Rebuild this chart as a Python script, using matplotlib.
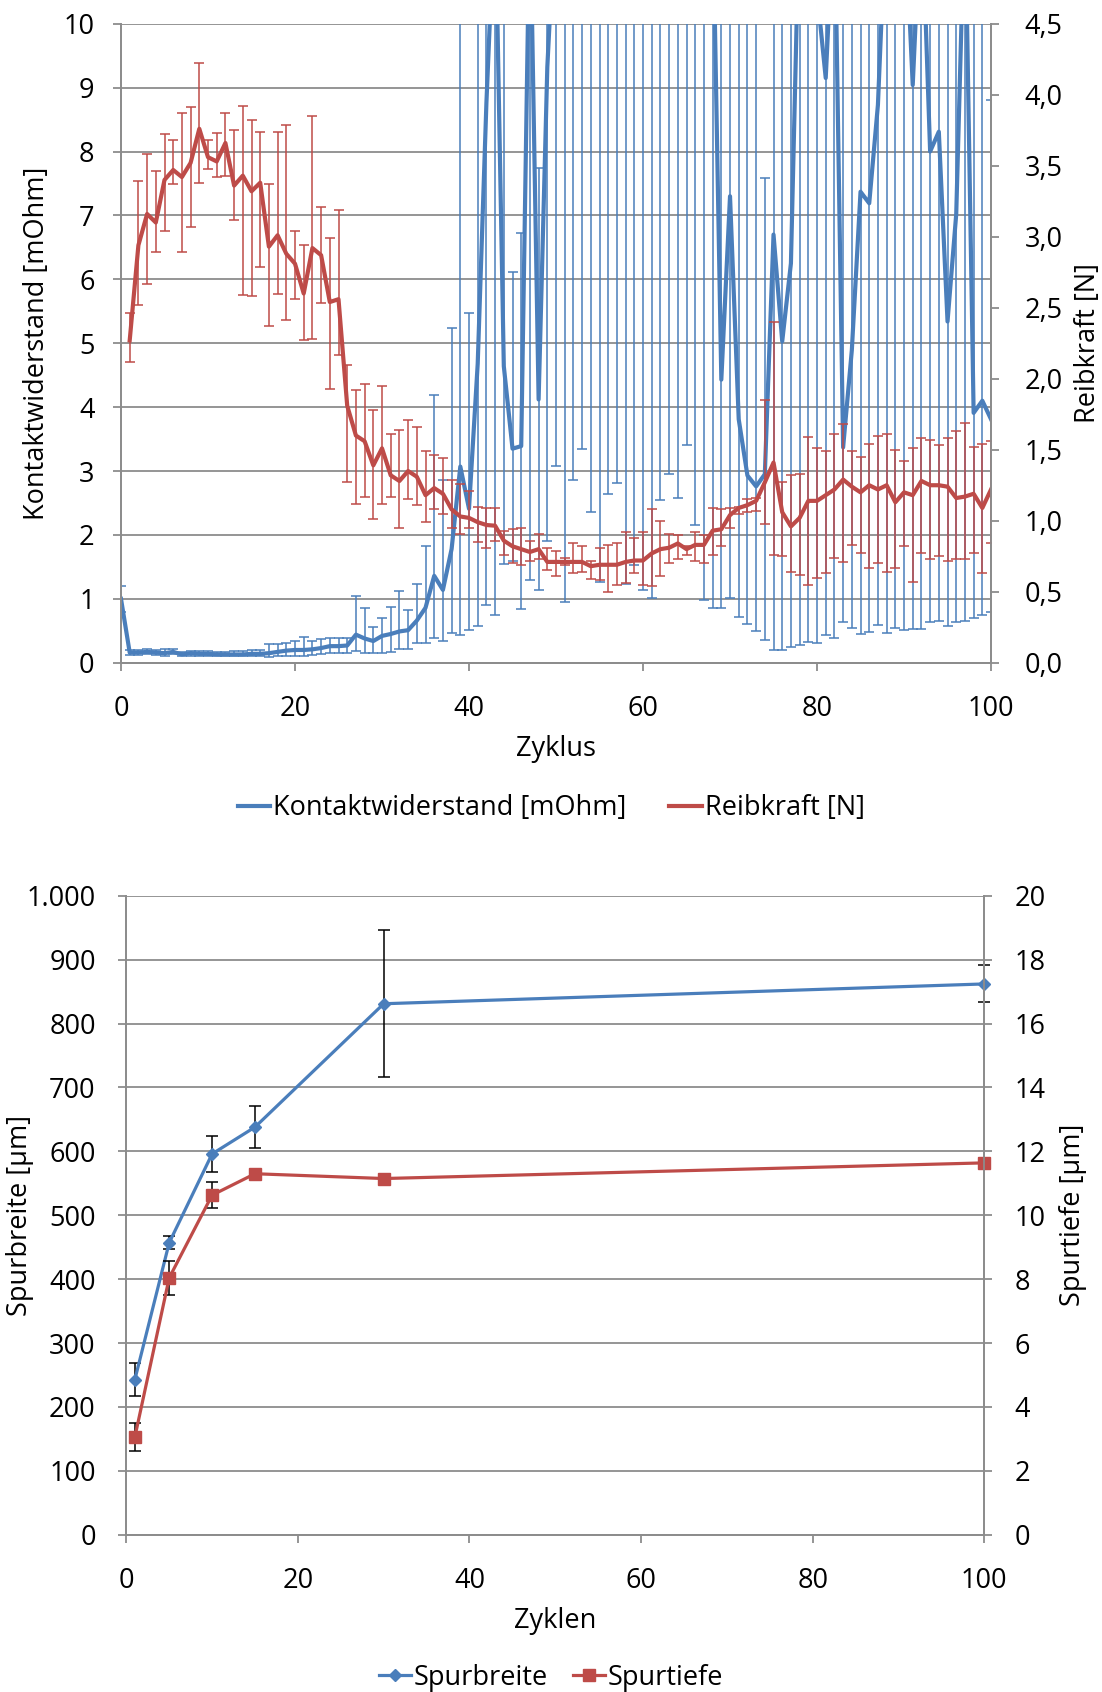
import numpy as np
import matplotlib
matplotlib.use("Agg")
import matplotlib.pyplot as plt
import matplotlib.ticker as mticker
from matplotlib.lines import Line2D

plt.rcParams['font.family'] = ['Open Sans', 'DejaVu Sans']

BLUE = '#4A7EBB'
RED = '#BE4B48'
GRID = '#8C8C8C'

# ---- top chart data (Zyklus 0..100) ----
cycles = list(range(0, 101))

# Kontaktwiderstand [mOhm]; 12.0 = above the visible range (>10)
kw_val = [1.00, 0.16, 0.16, 0.17, 0.16, 0.15, 0.17, 0.13, 0.15, 0.14,
          0.14, 0.13, 0.13, 0.13, 0.13, 0.14, 0.14, 0.15, 0.17, 0.19,
          0.20, 0.20, 0.21, 0.23, 0.26, 0.26, 0.27, 0.44, 0.38, 0.34,
          0.42, 0.45, 0.49, 0.51, 0.66, 0.86, 1.36, 1.14, 1.78, 3.07,
          2.41, 4.68, 8.76, 12.0, 4.64, 3.35, 3.39, 12.0, 4.12, 9.32,
          12.0, 12.0, 12.0, 12.0, 12.0, 12.0, 12.0, 12.0, 12.0, 12.0,
          12.0, 12.0, 12.0, 12.0, 12.0, 12.0, 12.0, 12.0, 12.0, 4.43,
          7.30, 3.81, 2.93, 2.76, 2.95, 6.70, 5.03, 6.25, 12.0, 12.0,
          10.5, 9.15, 12.0, 3.37, 4.89, 7.37, 7.19, 8.73, 12.0, 12.0,
          12.0, 9.04, 12.0, 8.00, 8.31, 5.34, 7.02, 12.0, 3.91, 4.10,
          3.81]
kw_lo = [0.80, 0.12, 0.12, 0.13, 0.12, 0.11, 0.13, 0.10, 0.11, 0.11,
         0.11, 0.10, 0.10, 0.10, 0.10, 0.10, 0.10, 0.09, 0.10, 0.11,
         0.11, 0.10, 0.12, 0.13, 0.15, 0.15, 0.15, 0.19, 0.16, 0.15,
         0.16, 0.17, 0.22, 0.21, 0.31, 0.31, 0.38, 0.34, 0.47, 0.43,
         0.52, 0.58, 0.91, 0.75, 1.55, 1.60, 0.84, 1.30, 1.14, 1.90,
         3.08, 0.95, 2.86, 3.34, 2.36, 1.27, 2.64, 2.81, 1.24, 1.53,
         1.14, 1.01, 2.55, 2.96, 2.58, 3.40, 2.15, 0.98, 0.86, 0.85,
         1.01, 0.71, 0.61, 0.50, 0.35, 0.20, 0.20, 0.24, 0.28, 0.32,
         0.31, 0.43, 0.38, 0.63, 0.54, 0.45, 0.48, 0.59, 0.46, 0.55,
         0.52, 0.53, 0.53, 0.63, 0.66, 0.58, 0.63, 0.66, 0.70, 0.75,
         0.79]
kw_hi = [1.20, 0.20, 0.20, 0.21, 0.20, 0.22, 0.21, 0.17, 0.19, 0.18,
         0.18, 0.17, 0.17, 0.18, 0.18, 0.20, 0.20, 0.30, 0.30, 0.31,
         0.34, 0.40, 0.34, 0.37, 0.38, 0.38, 0.38, 1.05, 0.86, 0.56,
         0.70, 0.87, 1.12, 0.82, 1.24, 1.82, 4.19, 2.86, 5.24, 20.0,
         5.47, 20.0, 20.0, 20.0, 20.0, 6.12, 6.72, 20.0, 7.74, 20.0,
         20.0, 20.0, 20.0, 20.0, 20.0, 20.0, 20.0, 20.0, 20.0, 20.0,
         20.0, 20.0, 20.0, 20.0, 20.0, 20.0, 20.0, 20.0, 20.0, 20.0,
         20.0, 20.0, 20.0, 20.0, 7.59, 20.0, 20.0, 20.0, 20.0, 20.0,
         20.0, 20.0, 20.0, 20.0, 20.0, 20.0, 20.0, 20.0, 20.0, 20.0,
         20.0, 20.0, 20.0, 20.0, 20.0, 20.0, 20.0, 20.0, 20.0, 20.0,
         8.80]

# Reibkraft [N], Zyklus 1..100
rk_cycles = list(range(1, 101))
rk_val = [2.27, 2.94, 3.16, 3.10, 3.40, 3.47, 3.42, 3.52, 3.76, 3.56,
          3.53, 3.66, 3.36, 3.43, 3.32, 3.38, 2.93, 3.01, 2.88, 2.81,
          2.60, 2.92, 2.87, 2.54, 2.56, 1.81, 1.60, 1.56, 1.39, 1.51,
          1.32, 1.28, 1.35, 1.31, 1.18, 1.23, 1.19, 1.08, 1.03, 1.02,
          0.99, 0.97, 0.965, 0.86, 0.82, 0.80, 0.78, 0.80, 0.71, 0.71,
          0.71, 0.71, 0.71, 0.68, 0.69, 0.69, 0.69, 0.71, 0.72, 0.72,
          0.77, 0.80, 0.81, 0.84, 0.80, 0.83, 0.83, 0.93, 0.94, 1.04,
          1.09, 1.11, 1.14, 1.27, 1.41, 1.06, 0.96, 1.02, 1.14, 1.14,
          1.18, 1.22, 1.29, 1.24, 1.20, 1.25, 1.22, 1.25, 1.13, 1.20,
          1.18, 1.28, 1.25, 1.25, 1.24, 1.16, 1.17, 1.19, 1.09, 1.22]
rk_lo = [2.12, 2.52, 2.67, 2.89, 3.04, 3.37, 2.89, 3.07, 3.38, 3.48,
         3.42, 3.43, 3.12, 2.59, 2.58, 2.79, 2.37, 2.60, 2.41, 2.56,
         2.27, 2.28, 2.53, 1.93, 2.17, 1.27, 1.12, 1.17, 1.01, 1.12,
         1.17, 0.95, 1.15, 1.11, 0.99, 1.08, 1.05, 0.95, 0.91, 0.95,
         0.85, 0.81, 0.86, 0.76, 0.70, 0.69, 0.72, 0.73, 0.65, 0.61,
         0.69, 0.63, 0.64, 0.59, 0.58, 0.50, 0.55, 0.56, 0.63, 0.55,
         0.54, 0.61, 0.70, 0.73, 0.76, 0.72, 0.70, 0.76, 0.82, 0.95,
         1.05, 1.06, 1.07, 0.98, 0.76, 0.75, 0.64, 0.62, 0.55, 0.60,
         0.63, 0.74, 0.71, 0.83, 0.77, 0.67, 0.70, 0.64, 0.67, 0.82,
         0.57, 0.77, 0.73, 0.75, 0.72, 0.73, 0.73, 0.77, 0.63, 0.84]
rk_hi = [2.46, 3.39, 3.58, 3.46, 3.72, 3.68, 3.87, 3.91, 4.22, 3.68,
         3.73, 3.87, 3.75, 3.92, 3.82, 3.74, 3.37, 3.74, 3.79, 3.04,
         2.94, 3.85, 3.21, 2.99, 3.19, 2.10, 1.92, 1.96, 1.78, 1.95,
         1.61, 1.64, 1.71, 1.66, 1.49, 1.46, 1.44, 1.29, 1.26, 1.21,
         1.10, 1.09, 1.09, 0.93, 0.94, 0.95, 0.86, 0.91, 0.81, 0.79,
         0.74, 0.84, 0.82, 0.72, 0.81, 0.83, 0.84, 0.92, 0.88, 0.92,
         1.08, 1.00, 0.91, 0.90, 0.82, 0.92, 0.90, 1.09, 1.08, 1.09,
         1.10, 1.15, 1.16, 1.85, 2.40, 1.27, 1.32, 1.33, 1.59, 1.51,
         1.49, 1.61, 1.68, 1.49, 1.45, 1.54, 1.60, 1.61, 1.50, 1.42,
         1.51, 1.58, 1.57, 1.53, 1.58, 1.63, 1.69, 1.52, 1.54, 1.56]

# ---- bottom chart data ----
zyklen = [1, 5, 10, 15, 30, 100]
spurbreite = [243, 457, 596, 638, 831, 862]
spurbreite_err = [26, 10, 28, 33, 115, 29]
spurtiefe = [3.06, 8.04, 10.63, 11.30, 11.15, 11.64]
spurtiefe_err = [0.45, 0.54, 0.41, 0.0, 0.0, 0.0]

FS = 19.5


def comma_fmt(v, pos):
    return ('%.1f' % v).replace('.', ',')


def thousands_fmt(v, pos):
    return '{:,.0f}'.format(v).replace(',', '.')


def style_axes(ax, ax2, lpad, rpad):
    for a in (ax, ax2):
        for s in a.spines.values():
            s.set_color(GRID)
            s.set_linewidth(1.3)
        a.spines['top'].set_visible(False)
        a.tick_params(colors=GRID, labelcolor='black', labelsize=FS,
                      length=6, width=1.3)
    ax.tick_params(axis='y', pad=lpad)
    ax2.tick_params(axis='y', pad=rpad)
    ax.tick_params(axis='x', pad=17)
    ax.grid(axis='y', color=GRID, linewidth=1.3)
    ax.set_axisbelow(True)


fig = plt.figure(figsize=(11.02, 16.92), dpi=100)

# ----- top chart -----
ax1 = fig.add_axes([0.1098, 0.6083, 0.7895, 0.3777])
ax1b = ax1.twinx()

kw_val_a = np.array(kw_val)
kw_err = [kw_val_a - np.array(kw_lo), np.array(kw_hi) - kw_val_a]
ax1.errorbar(cycles, kw_val, yerr=kw_err, color=BLUE, linewidth=3,
             elinewidth=1.1, capsize=3.5, capthick=1.1, ecolor=BLUE)

rk_val_a = np.array(rk_val)
rk_err = [rk_val_a - np.array(rk_lo), np.array(rk_hi) - rk_val_a]
ax1b.errorbar(rk_cycles, rk_val, yerr=rk_err, color=RED, linewidth=3,
              elinewidth=1.1, capsize=3.5, capthick=1.1, ecolor=RED)

ax1.set_xlim(0, 100)
ax1.set_ylim(0, 10)
ax1.set_xticks(range(0, 101, 20))
ax1.set_yticks(range(0, 11))
ax1b.set_ylim(0, 4.5)
ax1b.set_yticks(np.arange(0, 4.51, 0.5))
ax1b.yaxis.set_major_formatter(mticker.FuncFormatter(comma_fmt))
style_axes(ax1, ax1b, 13, 18)
ax1.set_xlabel('Zyklus', fontsize=FS, labelpad=9)
ax1.set_ylabel('Kontaktwiderstand [mOhm]', fontsize=FS)
ax1.yaxis.set_label_coords(-0.081, 0.5)
ax1b.set_ylabel('Reibkraft [N]', fontsize=FS)
ax1b.yaxis.set_label_coords(1.095, 0.5)

top_handles = [Line2D([], [], color=BLUE, linewidth=3),
               Line2D([], [], color=RED, linewidth=3)]
fig.legend(top_handles, ['Kontaktwiderstand [mOhm]', 'Reibkraft [N]'],
           loc='center', bbox_to_anchor=(0.5, 0.5222), ncol=2, frameon=False,
           fontsize=FS, handlelength=1.2, handletextpad=0.1, columnspacing=1.6)

# ----- bottom chart -----
ax2 = fig.add_axes([0.1146, 0.0929, 0.7786, 0.3777])
ax2b = ax2.twinx()

ax2.errorbar(zyklen, spurbreite, yerr=spurbreite_err, color=BLUE,
             marker='D', markersize=6.5, linewidth=2.3, ecolor='black',
             elinewidth=1.1, capsize=4, capthick=1.1, clip_on=False)
ax2b.errorbar(zyklen, spurtiefe, yerr=spurtiefe_err, color=RED,
              marker='s', markersize=8.5, linewidth=2.3, ecolor='black',
              elinewidth=1.1, capsize=4, capthick=1.1, clip_on=False)

ax2.set_xlim(0, 100)
ax2.set_ylim(0, 1000)
ax2.set_xticks(range(0, 101, 20))
ax2.set_yticks(range(0, 1001, 100))
ax2.yaxis.set_major_formatter(mticker.FuncFormatter(thousands_fmt))
ax2b.set_ylim(0, 20)
ax2b.set_yticks(range(0, 21, 2))
style_axes(ax2, ax2b, 16, 16)
ax2.set_xlabel('Zyklen', fontsize=FS, labelpad=9)
ax2.set_ylabel('Spurbreite [µm]', fontsize=FS)
ax2.yaxis.set_label_coords(-0.107, 0.5)
ax2b.set_ylabel('Spurtiefe [µm]', fontsize=FS)
ax2b.yaxis.set_label_coords(1.087, 0.5)

bot_handles = [Line2D([], [], color=BLUE, linewidth=2.3, marker='D', markersize=6.5),
               Line2D([], [], color=RED, linewidth=2.3, marker='s', markersize=8.5)]
fig.legend(bot_handles, ['Spurbreite', 'Spurtiefe'],
           loc='center', bbox_to_anchor=(0.5, 0.0085), ncol=2, frameon=False,
           fontsize=FS, handlelength=1.2, handletextpad=0.1, columnspacing=0.9)

fig.savefig('out.png', dpi=100)
